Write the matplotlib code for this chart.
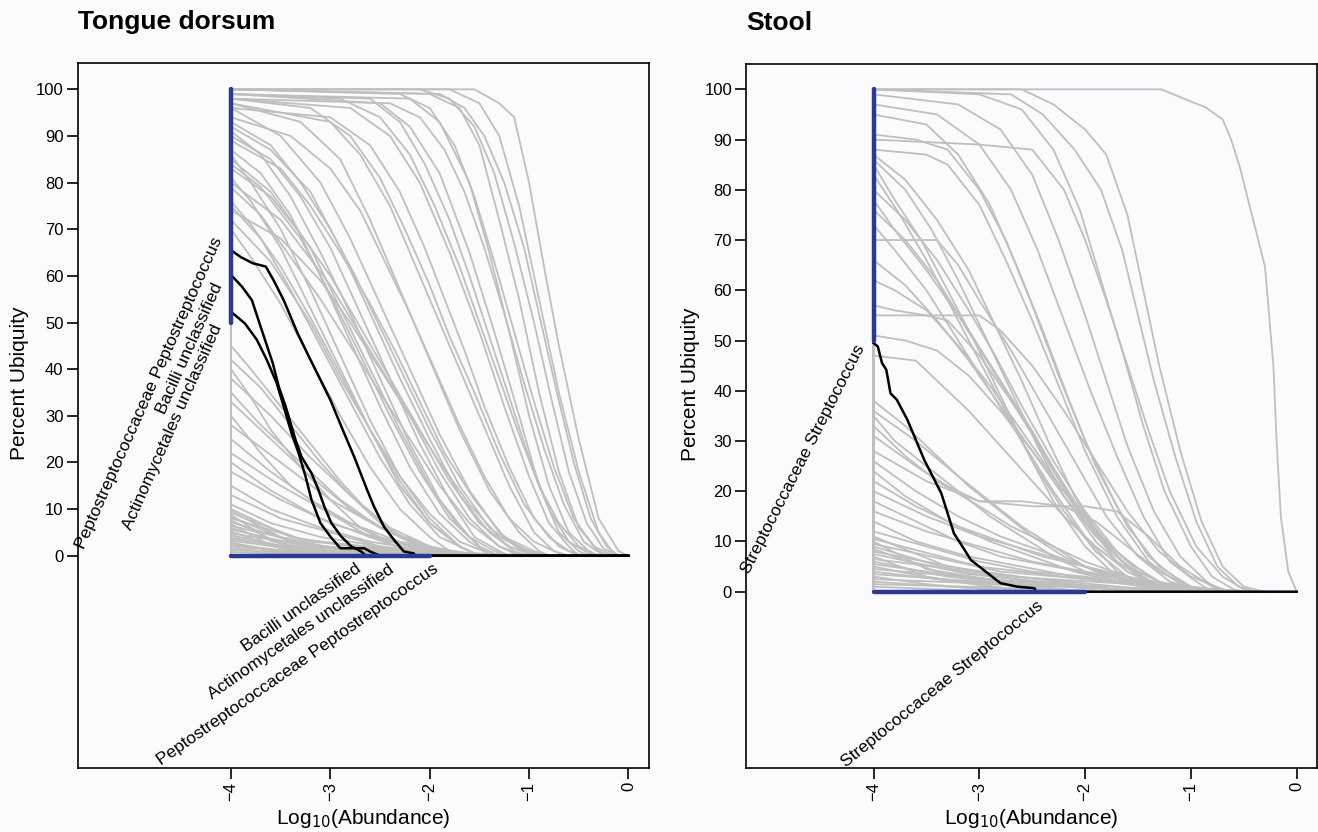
import matplotlib
matplotlib.use("Agg")
import matplotlib.pyplot as plt

plt.rcParams['font.family'] = ['Liberation Sans', 'DejaVu Sans']

# ---------------- data ----------------
x_ticks = [-4, -3, -2, -1, 0]
y_ticks = [0, 10, 20, 30, 40, 50, 60, 70, 80, 90, 100]
panel_titles = ["Tongue dorsum", "Stool"]

# Tongue dorsum: grey curves, (log10 abundance, percent ubiquity)
tongue_grey = [
    [(-4, 100), (-1.55, 100), (-1.3, 97), (-1.15, 94), (-1.0, 80), (-0.85, 62), (-0.7, 45), (-0.5, 25), (-0.3, 8), (-0.1, 1), (0, 0)],
    [(-4, 100), (-1.8, 100), (-1.5, 97), (-1.3, 90), (-1.1, 75), (-0.9, 55), (-0.7, 35), (-0.5, 18), (-0.3, 5), (-0.15, 0.5), (-0.1, 0)],
    [(-4, 100), (-1.9, 99), (-1.65, 96), (-1.45, 90), (-1.25, 80), (-1.05, 66), (-0.88, 50), (-0.72, 35), (-0.55, 20), (-0.38, 8), (-0.22, 2), (-0.1, 0)],
    [(-4, 100), (-2.1, 100), (-1.8, 98), (-1.55, 92), (-1.35, 82), (-1.15, 67), (-0.95, 50), (-0.78, 34), (-0.6, 18), (-0.42, 7), (-0.25, 1.5), (-0.1, 0)],
    [(-4, 100), (-2.0, 99), (-1.7, 96), (-1.5, 88), (-1.3, 72), (-1.1, 55), (-0.9, 35), (-0.7, 18), (-0.5, 6), (-0.3, 1), (-0.2, 0)],
    [(-4, 100), (-2.3, 99), (-2.0, 96), (-1.75, 88), (-1.55, 77), (-1.35, 63), (-1.15, 48), (-0.95, 33), (-0.75, 19), (-0.55, 8), (-0.35, 2), (-0.15, 0)],
    [(-4, 99), (-2.2, 98), (-1.9, 93), (-1.6, 80), (-1.4, 65), (-1.2, 48), (-1.0, 30), (-0.8, 15), (-0.6, 5), (-0.4, 1), (-0.3, 0)],
    [(-4, 98), (-2.4, 97), (-2.1, 94), (-1.85, 87), (-1.65, 78), (-1.45, 66), (-1.25, 52), (-1.05, 37), (-0.85, 23), (-0.65, 11), (-0.45, 3), (-0.25, 0)],
    [(-4, 99), (-2.6, 98), (-2.3, 93), (-2.05, 84), (-1.8, 72), (-1.6, 60), (-1.4, 47), (-1.2, 34), (-1.0, 21), (-0.8, 10), (-0.6, 3), (-0.4, 0.5), (-0.3, 0)],
    [(-4, 99), (-2.5, 97), (-2.2, 92), (-1.9, 82), (-1.6, 65), (-1.35, 48), (-1.1, 30), (-0.9, 15), (-0.7, 5), (-0.5, 1), (-0.4, 0)],
    [(-4, 99), (-2.9, 98), (-2.5, 94), (-2.2, 86), (-1.95, 75), (-1.7, 62), (-1.5, 50), (-1.3, 38), (-1.1, 26), (-0.9, 15), (-0.7, 7), (-0.5, 2), (-0.3, 0)],
    [(-4, 98), (-2.8, 96), (-2.4, 90), (-2.1, 80), (-1.8, 65), (-1.5, 48), (-1.25, 32), (-1.0, 17), (-0.8, 7), (-0.6, 2), (-0.5, 0)],
    [(-4, 98), (-3.2, 96), (-2.8, 90), (-2.5, 81), (-2.25, 70), (-2.0, 58), (-1.8, 47), (-1.55, 35), (-1.3, 22), (-1.05, 11), (-0.8, 4), (-0.6, 1), (-0.45, 0)],
    [(-4, 97), (-3.0, 93), (-2.7, 86), (-2.4, 75), (-2.1, 60), (-1.8, 45), (-1.5, 30), (-1.2, 15), (-0.95, 5), (-0.75, 1), (-0.6, 0)],
    [(-4, 96), (-3.0, 94), (-2.6, 88), (-2.3, 78), (-2.05, 66), (-1.85, 55), (-1.65, 44), (-1.45, 32), (-1.2, 19), (-0.95, 8), (-0.7, 2), (-0.5, 0)],
    [(-4, 97), (-3.3, 93), (-2.9, 85), (-2.6, 72), (-2.3, 57), (-2.0, 42), (-1.7, 27), (-1.4, 14), (-1.1, 5), (-0.9, 1), (-0.8, 0)],
    [(-4, 96), (-3.5, 90), (-3.1, 80), (-2.8, 68), (-2.5, 54), (-2.2, 40), (-1.9, 26), (-1.6, 14), (-1.3, 5), (-1.05, 1), (-0.9, 0)],
    [(-4, 94), (-3.4, 90), (-3.0, 83), (-2.7, 74), (-2.45, 63), (-2.2, 52), (-1.95, 40), (-1.7, 28), (-1.45, 17), (-1.2, 8), (-0.95, 3), (-0.7, 0.5), (-0.6, 0)],
    [(-4, 93), (-3.6, 88), (-3.3, 80), (-3.0, 70), (-2.75, 60), (-2.5, 49), (-2.25, 38), (-2.0, 27), (-1.7, 15), (-1.4, 6), (-1.1, 1.5), (-0.9, 0)],
    [(-4, 92), (-3.6, 87), (-3.2, 78), (-2.9, 66), (-2.6, 52), (-2.3, 38), (-2.0, 25), (-1.7, 13), (-1.4, 5), (-1.15, 1), (-1.0, 0)],
    [(-4, 91), (-3.7, 86), (-3.4, 77), (-3.1, 65), (-2.8, 52), (-2.5, 38), (-2.2, 24), (-1.9, 12), (-1.6, 4), (-1.35, 1), (-1.2, 0)],
    [(-4, 90), (-3.6, 85), (-3.3, 77), (-3.0, 66), (-2.7, 52), (-2.4, 38), (-2.1, 24), (-1.8, 12), (-1.55, 4), (-1.3, 1), (-1.2, 0)],
    [(-4, 89), (-3.5, 83), (-3.2, 75), (-2.9, 65), (-2.6, 54), (-2.35, 44), (-2.1, 33), (-1.85, 22), (-1.55, 12), (-1.25, 4), (-0.95, 1), (-0.8, 0)],
    [(-4, 87), (-3.7, 82), (-3.4, 73), (-3.1, 60), (-2.8, 46), (-2.5, 32), (-2.2, 19), (-1.9, 9), (-1.6, 3), (-1.4, 0.5), (-1.3, 0)],
    [(-4, 86), (-3.8, 80), (-3.5, 70), (-3.2, 57), (-2.9, 43), (-2.6, 29), (-2.3, 17), (-2.0, 8), (-1.7, 2), (-1.5, 0)],
    [(-4, 85), (-3.6, 78), (-3.2, 66), (-2.9, 53), (-2.6, 40), (-2.3, 27), (-2.0, 15), (-1.7, 6), (-1.45, 1), (-1.3, 0)],
    [(-4, 84), (-3.7, 79), (-3.3, 68), (-3.0, 56), (-2.7, 43), (-2.4, 30), (-2.1, 18), (-1.8, 8), (-1.5, 2), (-1.3, 0)],
    [(-4, 83), (-3.6, 77), (-3.3, 69), (-3.0, 60), (-2.7, 49), (-2.4, 38), (-2.1, 27), (-1.8, 16), (-1.5, 7), (-1.2, 2), (-0.95, 0)],
    [(-4, 81), (-3.8, 76), (-3.5, 66), (-3.2, 53), (-2.9, 40), (-2.6, 27), (-2.3, 15), (-2.0, 7), (-1.7, 2), (-1.5, 0)],
    [(-4, 80), (-3.5, 72), (-3.0, 58), (-2.6, 44), (-2.2, 30), (-1.9, 18), (-1.6, 8), (-1.3, 2), (-1.1, 0)],
    [(-4, 79), (-3.7, 73), (-3.4, 64), (-3.1, 55), (-2.8, 45), (-2.5, 35), (-2.2, 25), (-1.9, 15), (-1.6, 7), (-1.3, 2), (-1.05, 0)],
    [(-4, 76), (-3.8, 71), (-3.5, 62), (-3.2, 51), (-2.9, 39), (-2.6, 27), (-2.3, 16), (-2.0, 7), (-1.7, 2), (-1.5, 0)],
    [(-4, 75), (-3.7, 68), (-3.4, 57), (-3.1, 45), (-2.8, 33), (-2.5, 21), (-2.2, 11), (-1.9, 4), (-1.6, 1), (-1.5, 0)],
    [(-4, 74), (-3.5, 68), (-3.1, 59), (-2.8, 50), (-2.5, 40), (-2.2, 30), (-1.9, 20), (-1.6, 11), (-1.3, 4), (-1.0, 1), (-0.8, 0)],
    [(-4, 72), (-3.6, 63), (-3.2, 50), (-2.9, 38), (-2.6, 27), (-2.3, 17), (-2.0, 9), (-1.7, 3), (-1.4, 0.5), (-1.3, 0)],
    [(-4, 70), (-3.8, 64), (-3.5, 54), (-3.2, 42), (-2.9, 30), (-2.6, 19), (-2.3, 10), (-2.0, 4), (-1.8, 1), (-1.7, 0)],
    [(-4, 45), (-3.8, 40), (-3.5, 32), (-3.2, 24), (-2.9, 16), (-2.6, 9), (-2.3, 4), (-2.0, 1), (-1.8, 0)],
    [(-4, 42), (-3.7, 36), (-3.4, 28), (-3.1, 20), (-2.8, 13), (-2.5, 7), (-2.2, 3), (-1.9, 1), (-1.7, 0)],
    [(-4, 40), (-3.8, 34), (-3.6, 27), (-3.3, 19), (-3.0, 12), (-2.7, 6), (-2.4, 2.5), (-2.1, 0.5), (-2.0, 0)],
    [(-4, 38), (-3.6, 30), (-3.2, 21), (-2.8, 13), (-2.4, 6), (-2.0, 2), (-1.7, 0)],
    [(-4, 35), (-3.7, 28), (-3.3, 20), (-2.9, 12), (-2.5, 6), (-2.1, 2), (-1.8, 0)],
    [(-4, 33), (-3.6, 25), (-3.2, 17), (-2.8, 10), (-2.4, 5), (-2.0, 1.5), (-1.6, 0)],
    [(-4, 30), (-3.7, 22), (-3.4, 15), (-3.0, 9), (-2.6, 4), (-2.2, 1), (-2.0, 0)],
    [(-4, 28), (-3.5, 20), (-3.0, 12), (-2.5, 6), (-2.0, 2), (-1.5, 0)],
    [(-4, 25), (-3.6, 18), (-3.2, 12), (-2.8, 7), (-2.3, 3), (-1.8, 1), (-1.5, 0)],
    [(-4, 22), (-3.5, 15), (-3.0, 9), (-2.5, 4), (-2.0, 1), (-1.7, 0)],
    [(-4, 20), (-3.6, 14), (-3.1, 8), (-2.6, 4), (-2.1, 1.5), (-1.6, 0)],
    [(-4, 18), (-3.5, 12), (-3.0, 7), (-2.4, 3), (-1.8, 1), (-1.3, 0)],
    [(-4, 15), (-3.6, 10), (-3.1, 6), (-2.6, 3), (-2.0, 1), (-1.5, 0)],
    [(-4, 13), (-3.5, 8), (-3.0, 5), (-2.5, 2), (-1.9, 0.5), (-1.6, 0)],
    [(-4, 11), (-3.6, 7), (-3.1, 4), (-2.5, 2), (-2.0, 0.5), (-1.8, 0)],
]

# Tongue dorsum: dense cluster of rare taxa (start, knee, end)
tongue_low_start = [10, 9.6, 9.2, 8.8, 8.4, 8, 7.6, 7.2, 6.8, 6.4, 6, 5.6, 5.2, 4.8, 4.4, 4, 3.6, 3.2, 2.8, 2.4, 2, 1.6, 1.2, 0.8]
tongue_low_knee_x = [-3.4, -3.5, -3.3, -3.6, -3.4, -3.2, -3.5, -3.3, -3.6, -3.1, -3.4, -3.2, -3.5, -3.0, -3.3, -3.4, -3.1, -3.2, -3.5, -3.3, -3.2, -3.4, -3.0, -3.3]
tongue_low_knee_y = [4, 4, 3.5, 3.2, 3, 3, 2.6, 2.5, 2.2, 2, 2, 1.8, 1.6, 1.5, 1.3, 1.2, 1, 1, 0.8, 0.7, 0.6, 0.5, 0.4, 0.3]
tongue_low_end_x = [-2.2, -2.6, -1.8, -2.9, -2.4, -1.5, -2.8, -2.0, -3.0, -1.2, -2.5, -1.9, -2.7, -0.8, -2.3, -2.6, -1.6, -2.1, -2.9, -2.5, -1.4, -2.2, -1.0, -2.7]

# Tongue dorsum: highlighted taxa
tongue_black = {
    "Peptostreptococcaceae Peptostreptococcus": [
        (-4, 65.5), (-3.9, 64), (-3.78, 62.7), (-3.65, 62), (-3.57, 59), (-3.47, 54.8), (-3.33, 47.7),
        (-3.2, 42), (-3.1, 37.7), (-3.0, 33.4), (-2.86, 26.2), (-2.76, 21.2), (-2.63, 14.1), (-2.56, 10.5),
        (-2.46, 6.2), (-2.36, 3.4), (-2.26, 0.9), (-2.16, 0.5), (-2.15, 0), (0, 0)],
    "Bacilli unclassified": [
        (-4, 60.2), (-3.89, 57.7), (-3.79, 54.8), (-3.68, 47.7), (-3.58, 41.3), (-3.52, 36.3), (-3.45, 32.0),
        (-3.40, 28.4), (-3.35, 24.8), (-3.29, 21.2), (-3.19, 17.7), (-3.12, 14.1), (-3.06, 10.5), (-2.99, 7.0),
        (-2.89, 4.1), (-2.79, 2.0), (-2.69, 0.9), (-2.64, 0), (0, 0)],
    "Actinomycetales unclassified": [
        (-4, 52.3), (-3.86, 49.8), (-3.74, 46.3), (-3.64, 42.0), (-3.54, 37.0), (-3.47, 32.0), (-3.39, 26.2),
        (-3.32, 22.0), (-3.25, 17.0), (-3.19, 12.0), (-3.10, 7.0), (-3.0, 4.1), (-2.9, 1.6), (-2.66, 1.6),
        (-2.6, 0.9), (-2.5, 0), (0, 0)],
}
tongue_left_labels = ["Peptostreptococcaceae Peptostreptococcus", "Bacilli unclassified", "Actinomycetales unclassified"]
tongue_left_label_y = [67.5, 57.6, 48.7]
tongue_bottom_labels = ["Bacilli unclassified", "Actinomycetales unclassified", "Peptostreptococcaceae Peptostreptococcus"]
tongue_bottom_label_x = [-2.75, -2.42, -1.97]

# Stool: grey curves
stool_grey = [
    [(-4, 100), (-1.28, 100), (-1.13, 98.7), (-0.98, 97.4), (-0.86, 96.4), (-0.7, 94), (-0.62, 90), (-0.54, 84.7),
     (-0.46, 78), (-0.38, 71.4), (-0.3, 64.7), (-0.26, 54.8), (-0.22, 44.8), (-0.19, 30), (-0.15, 15), (-0.08, 4), (0, 0)],
    [(-4, 100), (-2.6, 100), (-2.3, 97), (-2.0, 92), (-1.8, 87), (-1.6, 75), (-1.45, 60), (-1.3, 45), (-1.1, 28), (-0.9, 14), (-0.7, 5), (-0.5, 1), (-0.3, 0)],
    [(-4, 100), (-2.7, 99), (-2.4, 95), (-2.1, 88), (-1.85, 80), (-1.65, 68), (-1.5, 55), (-1.35, 42), (-1.15, 27), (-0.95, 14), (-0.75, 5), (-0.55, 1), (-0.4, 0)],
    [(-4, 100), (-3.0, 99), (-2.6, 96), (-2.3, 88), (-2.05, 76), (-1.85, 62), (-1.65, 48), (-1.45, 33), (-1.25, 20), (-1.0, 9), (-0.8, 3), (-0.6, 0.5), (-0.5, 0)],
    [(-4, 99), (-3.2, 97), (-2.8, 92), (-2.5, 83), (-2.25, 70), (-2.0, 55), (-1.8, 42), (-1.6, 29), (-1.35, 16), (-1.1, 7), (-0.85, 2), (-0.7, 0)],
    [(-4, 97), (-3.4, 95), (-3.0, 89), (-2.7, 80), (-2.45, 68), (-2.2, 54), (-1.95, 40), (-1.7, 27), (-1.45, 15), (-1.2, 6), (-0.95, 2), (-0.8, 0)],
    [(-4, 95), (-3.5, 93), (-3.2, 87), (-2.9, 77), (-2.65, 65), (-2.4, 52), (-2.15, 38), (-1.9, 25), (-1.6, 13), (-1.3, 5), (-1.0, 1), (-0.85, 0)],
    [(-4, 91), (-3.6, 90), (-3.3, 88), (-3.0, 80), (-2.75, 70), (-2.5, 57), (-2.25, 43), (-2.0, 30), (-1.7, 17), (-1.4, 7), (-1.1, 2), (-0.9, 0)],
    [(-4, 90), (-3.0, 89), (-2.5, 88), (-2.2, 80), (-2.0, 70), (-1.8, 58), (-1.6, 45), (-1.4, 32), (-1.2, 20), (-0.95, 9), (-0.7, 3), (-0.5, 0.5), (-0.4, 0)],
    [(-4, 88), (-3.5, 87), (-3.3, 85), (-3.0, 77), (-2.75, 66), (-2.5, 54), (-2.25, 41), (-2.0, 28), (-1.7, 15), (-1.4, 6), (-1.1, 1.5), (-0.9, 0)],
    [(-4, 87), (-3.7, 82), (-3.4, 74), (-3.1, 64), (-2.85, 53), (-2.6, 42), (-2.35, 30), (-2.1, 19), (-1.8, 9), (-1.5, 3), (-1.2, 0.5), (-1.0, 0)],
    [(-4, 86), (-3.7, 80), (-3.45, 72), (-3.2, 62), (-2.95, 51), (-2.7, 40), (-2.45, 29), (-2.2, 19), (-1.9, 10), (-1.6, 4), (-1.3, 1), (-1.1, 0)],
    [(-4, 85), (-3.8, 78), (-3.55, 70), (-3.3, 60), (-3.05, 50), (-2.8, 39), (-2.55, 28), (-2.3, 18), (-2.0, 9), (-1.7, 3), (-1.4, 0.5), (-1.2, 0)],
    [(-4, 83), (-3.75, 75), (-3.5, 66), (-3.25, 56), (-3.0, 46), (-2.75, 36), (-2.5, 26), (-2.2, 16), (-1.9, 8), (-1.6, 3), (-1.3, 0)],
    [(-4, 80), (-3.7, 74), (-3.4, 66), (-3.1, 56), (-2.85, 47), (-2.6, 37), (-2.3, 26), (-2.0, 16), (-1.7, 8), (-1.4, 3), (-1.1, 0)],
    [(-4, 78), (-3.8, 72), (-3.5, 64), (-3.2, 55), (-2.9, 45), (-2.6, 35), (-2.3, 24), (-2.0, 14), (-1.7, 6), (-1.4, 2), (-1.2, 0)],
    [(-4, 76), (-3.7, 70), (-3.4, 62), (-3.1, 52), (-2.8, 42), (-2.5, 32), (-2.2, 21), (-1.9, 12), (-1.6, 5), (-1.3, 1), (-1.1, 0)],
    [(-4, 73), (-3.8, 68), (-3.5, 60), (-3.2, 50), (-2.9, 40), (-2.6, 30), (-2.3, 20), (-2.0, 11), (-1.7, 4), (-1.4, 1), (-1.2, 0)],
    [(-4, 70), (-3.4, 70), (-3.2, 65), (-3.0, 58), (-2.7, 48), (-2.4, 37), (-2.1, 26), (-1.8, 15), (-1.5, 7), (-1.2, 2), (-0.9, 0)],
    [(-4, 66), (-3.7, 61), (-3.4, 54), (-3.1, 46), (-2.8, 37), (-2.5, 28), (-2.2, 19), (-1.9, 11), (-1.6, 5), (-1.3, 1), (-1.1, 0)],
    [(-4, 62), (-3.8, 60), (-3.5, 56), (-3.2, 49), (-2.9, 41), (-2.6, 32), (-2.3, 23), (-2.0, 14), (-1.7, 7), (-1.4, 2), (-1.1, 0)],
    [(-4, 57), (-3.8, 56), (-3.5, 55), (-3.3, 54), (-3.0, 47), (-2.7, 38), (-2.4, 28), (-2.1, 18), (-1.8, 10), (-1.5, 4), (-1.2, 1), (-1.0, 0)],
    [(-4, 55), (-3.0, 55), (-2.8, 52), (-2.5, 45), (-2.2, 36), (-1.9, 26), (-1.6, 16), (-1.3, 8), (-1.0, 3), (-0.7, 0.5), (-0.6, 0)],
    [(-4, 51), (-3.7, 50), (-3.4, 48), (-3.1, 43), (-2.8, 36), (-2.5, 28), (-2.2, 20), (-1.9, 12), (-1.6, 6), (-1.3, 2), (-1.0, 0)],
    [(-4, 47), (-3.6, 46), (-3.4, 42), (-3.1, 36), (-2.8, 29), (-2.5, 22), (-2.2, 15), (-1.9, 9), (-1.6, 4), (-1.3, 1), (-1.0, 0)],
    [(-4, 38), (-3.7, 33), (-3.4, 27), (-3.1, 21), (-2.8, 16), (-2.5, 11), (-2.2, 7), (-1.9, 4), (-1.6, 2), (-1.3, 0.5), (-1.0, 0)],
    [(-4, 36), (-3.6, 30), (-3.2, 23), (-2.9, 18), (-2.6, 13), (-2.3, 9), (-2.0, 5), (-1.7, 3), (-1.4, 1), (-1.1, 0)],
    [(-4, 35), (-3.8, 30), (-3.5, 25), (-3.2, 20), (-2.9, 15), (-2.6, 11), (-2.3, 7), (-2.0, 4), (-1.6, 1.5), (-1.2, 0)],
    [(-4, 33), (-3.7, 27), (-3.4, 22), (-3.0, 17), (-2.7, 13), (-2.3, 9), (-2.0, 6), (-1.6, 3), (-1.2, 1), (-0.9, 0)],
    [(-4, 31), (-3.6, 25), (-3.3, 21), (-3.0, 18), (-2.6, 18), (-2.2, 17), (-1.9, 14), (-1.6, 9), (-1.3, 4), (-1.0, 1), (-0.8, 0)],
    [(-4, 28), (-3.5, 22), (-3.0, 18), (-2.5, 17), (-2.0, 17), (-1.7, 16), (-1.4, 11), (-1.1, 5), (-0.8, 1), (-0.6, 0)],
    [(-4, 26), (-3.6, 20), (-3.2, 15), (-2.8, 11), (-2.4, 8), (-2.0, 5), (-1.6, 2.5), (-1.2, 1), (-0.9, 0)],
    [(-4, 24), (-3.7, 19), (-3.3, 14), (-2.9, 10), (-2.5, 7), (-2.1, 4), (-1.7, 2), (-1.3, 0.5), (-1.0, 0)],
    [(-4, 22), (-3.6, 17), (-3.2, 13), (-2.8, 10), (-2.4, 7), (-2.0, 5), (-1.6, 3), (-1.2, 1), (-0.8, 0)],
    [(-4, 20), (-3.5, 15), (-3.0, 11), (-2.5, 8), (-2.0, 5), (-1.5, 2.5), (-1.0, 1), (-0.6, 0)],
    [(-4, 18), (-3.6, 14), (-3.2, 10), (-2.8, 7), (-2.3, 5), (-1.8, 3), (-1.3, 1.5), (-0.8, 0.5), (-0.5, 0)],
    [(-4, 16), (-3.5, 12), (-3.0, 9), (-2.5, 6), (-2.0, 4), (-1.5, 2), (-1.0, 1), (-0.6, 0)],
    [(-4, 14), (-3.6, 10), (-3.1, 7), (-2.6, 5), (-2.1, 3), (-1.6, 2), (-1.1, 1), (-0.5, 0)],
    [(-4, 12), (-3.5, 9), (-3.0, 6), (-2.5, 4), (-2.0, 3), (-1.5, 1.5), (-1.0, 0.5), (-0.7, 0)],
]

stool_low_start = [11, 10.5, 10, 9.5, 9, 8.5, 8, 7.5, 7, 6.5, 6, 5.5, 5, 4.5, 4, 3.5, 3, 2.5, 2, 1.5, 1]
stool_low_knee_x = [-3.3, -3.0, -3.5, -2.8, -3.2, -3.4, -2.9, -3.1, -3.5, -2.7, -3.3, -3.0, -3.4, -2.6, -3.2, -3.0, -3.5, -2.8, -3.3, -3.1, -3.4]
stool_low_knee_y = [5, 5, 4.5, 4, 4, 4, 3.5, 3.5, 3, 3, 3, 2.5, 2.5, 2, 2, 2, 1.5, 1.5, 1, 1, 0.5]
stool_low_end_x = [-1.6, -1.0, -2.2, -0.6, -1.8, -2.4, -1.2, -1.5, -2.6, -0.4, -2.0, -1.4, -2.5, -0.9, -1.9, -1.3, -2.7, -1.1, -2.3, -1.7, -2.8]

stool_black = {
    "Streptococcaceae Streptococcus": [
        (-4, 49.5), (-3.96, 48.8), (-3.92, 45.5), (-3.88, 44.2), (-3.84, 39.5), (-3.78, 38.2), (-3.68, 34.2),
        (-3.60, 30.2), (-3.52, 26.2), (-3.44, 22.9), (-3.36, 19.6), (-3.30, 15.6), (-3.24, 11.6), (-3.16, 9.0),
        (-3.08, 6.3), (-3.0, 5.0), (-2.88, 3.0), (-2.8, 1.7), (-2.64, 1.0), (-2.48, 0.7), (-2.46, 0), (0, 0)],
}
stool_left_labels = ["Streptococcaceae Streptococcus"]
stool_left_label_y = [48.2]
stool_bottom_labels = ["Streptococcaceae Streptococcus"]
stool_bottom_label_x = [-2.46]

# highlight thresholds (blue lines): ubiquity >= 50 %, abundance <= 1e-2
ubiq_range = (50, 100)
abund_range = (-4, -2)

# ---------------- styling ----------------
BG = '#fbfbfd'
GREY = '#bfbfbf'
BLUE = '#2b3990'

fig = plt.figure(figsize=(13.18, 8.32), dpi=100, facecolor=BG)

panels = [
    dict(rect=[77.5 / 1318, 1 - 768.3 / 832, (649 - 77.5) / 1318, (768.3 - 63) / 832],
         xlim=(-5.545, 0.207), ylim=(-45.58, 105.64), ylab_x=(29 - 77.5) / 571.5,
         grey=tongue_grey,
         low=(tongue_low_start, tongue_low_knee_x, tongue_low_knee_y, tongue_low_end_x),
         black=tongue_black,
         left_labels=tongue_left_labels, left_y=tongue_left_label_y, left_rot=66,
         bottom_labels=tongue_bottom_labels, bottom_x=tongue_bottom_label_x, bottom_rot=35,
         title=panel_titles[0]),
    dict(rect=[746 / 1318, 1 - 768.3 / 832, (1316.7 - 746) / 1318, (768.3 - 64) / 832],
         xlim=(-5.206, 0.189), ylim=(-35.15, 105.04), ylab_x=(700 - 746) / 570.7,
         grey=stool_grey,
         low=(stool_low_start, stool_low_knee_x, stool_low_knee_y, stool_low_end_x),
         black=stool_black,
         left_labels=stool_left_labels, left_y=stool_left_label_y, left_rot=63,
         bottom_labels=stool_bottom_labels, bottom_x=stool_bottom_label_x, bottom_rot=39,
         title=panel_titles[1]),
]

for p in panels:
    ax = fig.add_axes(p['rect'])
    ax.set_facecolor(BG)
    x0 = x_ticks[0]

    for curve in p['grey']:
        xs = [x0] + [c[0] for c in curve]
        ys = [0] + [c[1] for c in curve]
        ax.plot(xs, ys, color=GREY, lw=1.3, zorder=1)

    s, kx, ky, ex = p['low']
    for y0, xk, yk, xe in zip(s, kx, ky, ex):
        ax.plot([x0, x0, xk, xe], [0, y0, yk, 0], color=GREY, lw=1.3, zorder=1)

    for name, curve in p['black'].items():
        ax.plot([c[0] for c in curve], [c[1] for c in curve], color='black', lw=1.8, zorder=3)

    ax.plot([x0, x0], list(ubiq_range), color=BLUE, lw=3.2, solid_capstyle='round', zorder=4)
    ax.plot(list(abund_range), [0, 0], color=BLUE, lw=3.2, solid_capstyle='round', zorder=4)

    for lab, yy in zip(p['left_labels'], p['left_y']):
        ax.text(x0 - 0.06, yy, lab, rotation=p['left_rot'], rotation_mode='anchor',
                ha='right', va='bottom', fontsize=12.5)
    for lab, xx in zip(p['bottom_labels'], p['bottom_x']):
        ax.text(xx, -1.2, lab, rotation=p['bottom_rot'], rotation_mode='anchor',
                ha='right', va='top', fontsize=12.5)

    ax.set_xlim(*p['xlim'])
    ax.set_ylim(*p['ylim'])
    ax.set_xticks(x_ticks)
    ax.set_yticks(y_ticks)
    ax.set_xticklabels([str(t).replace('-', '\u2212') for t in x_ticks], rotation=90, fontsize=12)
    ax.set_yticklabels([str(t) for t in y_ticks], fontsize=12)
    ax.tick_params(direction='out', length=8, width=1.2, pad=2, colors='black')
    for sp in ax.spines.values():
        sp.set_linewidth(1.2)
        sp.set_color('black')

    ax.set_ylabel('Percent Ubiquity', fontsize=15)
    ax.yaxis.set_label_coords(p['ylab_x'], (768.3 - 383.5) / (768.3 - 63))
    ax.set_xlabel('Log$_{10}$(Abundance)', fontsize=15)
    ax.text(0.0, 1.0 + (63 - 22) / (768.3 - 63), p['title'], transform=ax.transAxes,
            fontsize=19, fontweight='bold', ha='left', va='center')

fig.savefig('out.png', dpi=100, facecolor=BG)
